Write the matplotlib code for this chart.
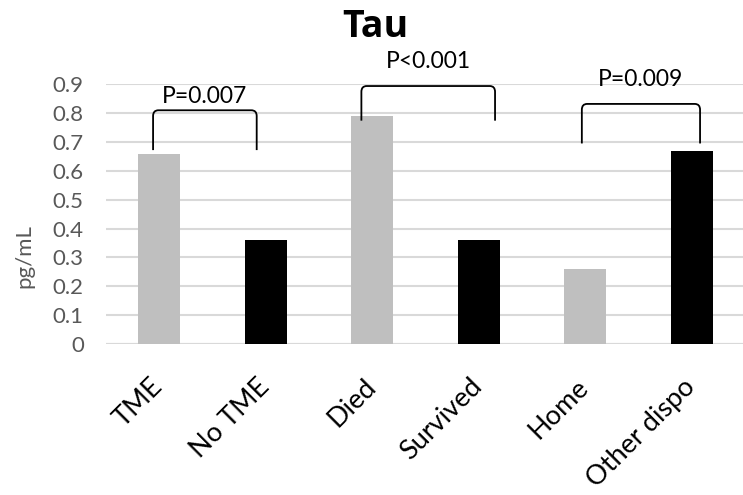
import matplotlib
matplotlib.use("Agg")
import matplotlib.pyplot as plt
from matplotlib.path import Path
from matplotlib.patches import PathPatch

categories = ["TME", "No TME", "Died", "Survived", "Home", "Other dispo"]
values = [0.66, 0.36, 0.79, 0.36, 0.26, 0.67]
bar_colors = ["#bfbfbf", "#000000", "#bfbfbf", "#000000", "#bfbfbf", "#000000"]
yticks = [0, 0.1, 0.2, 0.3, 0.4, 0.5, 0.6, 0.7, 0.8, 0.9]
ytick_labels = ["0", "0.1", "0.2", "0.3", "0.4", "0.5", "0.6", "0.7", "0.8", "0.9"]
p_labels = ["P=0.007", "P<0.001", "P=0.009"]
bracket_x = [(-0.056, 0.917), (1.90, 3.155), (3.97, 5.08)]
bracket_low = [0.672, 0.774, 0.695]
bracket_high = [0.81, 0.894, 0.832]
p_label_y = [0.858, 0.978, 0.915]

plt.rcParams['font.family'] = ['Lato', 'DejaVu Sans']

fig = plt.figure(figsize=(7.43, 4.95), dpi=100)
ax = fig.add_axes([106/743, 1 - 344/495, 637/743, (344 - 84.3)/495])

x = list(range(len(categories)))
ax.bar(x, values, width=0.394, color=bar_colors, zorder=3)

ax.set_ylim(0, 0.9)
ax.set_xlim(-0.498, -0.498 + 637/106.5)
ax.set_yticks(yticks)
ax.set_yticklabels(ytick_labels, fontsize=16, color="#595959")
ax.yaxis.grid(True, color="#d9d9d9", linewidth=1.5, zorder=0)
ax.set_axisbelow(True)
for s in ax.spines.values():
    s.set_visible(False)
ax.axhline(0, color="#d9d9d9", linewidth=1.5, zorder=1)
ax.tick_params(axis="both", length=0)
ax.tick_params(axis="y", pad=16)
ax.set_xticks(x)
ax.set_xticklabels(categories, fontsize=19.5, rotation=45, ha="right",
                   va="center", rotation_mode="anchor", color="black")
ax.tick_params(axis="x", pad=28)

fig.text(24.5/743, 1 - 256/495, "pg/mL", rotation=90, ha="center", va="center",
         fontsize=16, color="#595959")

rx, ry = 0.05, 0.02
for (x0, x1), lo, hi, lab, ly in zip(bracket_x, bracket_low, bracket_high, p_labels, p_label_y):
    verts = [(x0, lo), (x0, hi - ry), (x0, hi), (x0 + rx, hi),
             (x1 - rx, hi), (x1, hi), (x1, hi - ry), (x1, lo)]
    codes = [Path.MOVETO, Path.LINETO, Path.CURVE3, Path.CURVE3,
             Path.LINETO, Path.CURVE3, Path.CURVE3, Path.LINETO]
    ax.add_patch(PathPatch(Path(verts, codes), fill=False, edgecolor="black",
                           linewidth=1.3, clip_on=False, zorder=4))
    ax.text((x0 + x1) / 2, ly, lab, ha="center", va="center", fontsize=16.5,
            color="black", clip_on=False)

fig.text(375/743, 1 - 27/495, "Tau", ha="center", va="center", fontsize=27,
         fontweight="bold", color="black", family=["Open Sans", "DejaVu Sans"])

fig.savefig("out.png", dpi=100)
